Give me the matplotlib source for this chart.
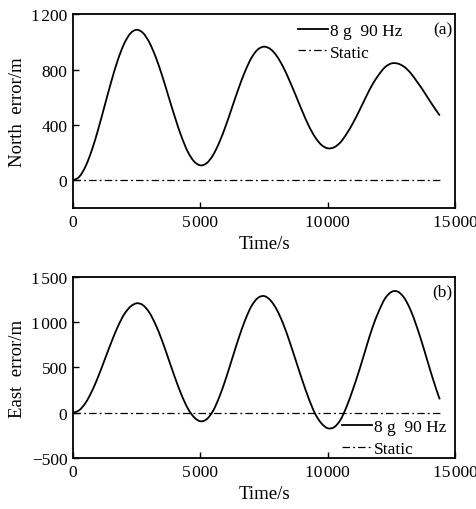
import numpy as np
import matplotlib
matplotlib.use('Agg')
import matplotlib.pyplot as plt
from matplotlib.path import Path
from matplotlib.patches import PathPatch
from matplotlib.ticker import FuncFormatter

plt.rcParams['font.family'] = ['Liberation Serif', 'DejaVu Serif']

# time axis (s)
time = [0, 250, 500, 750, 1000, 1250, 1500, 1750, 2000, 2250,
        2500, 2750, 3000, 3250, 3500, 3750, 4000, 4250, 4500, 4750,
        5000, 5250, 5500, 5750, 6000, 6250, 6500, 6750, 7000, 7250,
        7500, 7750, 8000, 8250, 8500, 8750, 9000, 9250, 9500, 9750,
        10000, 10250, 10500, 10750, 11000, 11250, 11500, 11750, 12000, 12250,
        12500, 12750, 13000, 13250, 13500, 13750, 14000, 14250, 14400]

# north position error, 8 g 90 Hz vibration (m)
north_vib = [0, 27, 104, 224, 376, 544, 712, 864, 984, 1061,
             1088, 1065, 996, 890, 757, 607, 458, 321, 210, 138,
             109, 125, 183, 277, 396, 530, 664, 785, 883, 945,
             966, 949, 899, 820, 721, 612, 501, 397, 314, 257,
             232, 239, 275, 339, 417, 507, 602, 691, 762, 818,
             845, 844, 821, 777, 715, 649, 577, 508, 469]

# east position error, 8 g 90 Hz vibration (m)
east_vib = [0, 29, 112, 242, 406, 590, 774, 945, 1083, 1171,
            1209, 1188, 1106, 969, 795, 594, 392, 205, 52, -49,
            -94, -71, 21, 178, 376, 598, 819, 1017, 1174, 1266,
            1289, 1243, 1139, 984, 789, 575, 361, 161, -7, -116,
            -171, -160, -79, 73, 266, 479, 711, 935, 1117, 1261,
            1334, 1338, 1270, 1137, 948, 729, 493, 269, 148]

# static case stays at zero
static = [0] * len(time)


def smooth_path(x, y):
    # draw the read points as one smooth bezier curve (catmull-rom handles)
    x = np.asarray(x, float)
    y = np.asarray(y, float)
    verts = [(x[0], y[0])]
    codes = [Path.MOVETO]
    n = len(x)
    for i in range(n - 1):
        p0 = max(i - 1, 0)
        p3 = min(i + 2, n - 1)
        c1 = (x[i] + (x[i + 1] - x[p0]) / 6, y[i] + (y[i + 1] - y[p0]) / 6)
        c2 = (x[i + 1] - (x[p3] - x[i]) / 6, y[i + 1] - (y[p3] - y[i]) / 6)
        verts += [c1, c2, (x[i + 1], y[i + 1])]
        codes += [Path.CURVE4] * 3
    return Path(verts, codes)


def thousands(v, pos):
    v = int(round(v))
    s = str(abs(v))
    if len(s) > 3:
        s = s[:-3] + '\u200a' + s[-3:]
    return ('\u2212' if v < 0 else '') + s


fig = plt.figure(figsize=(4.77, 5.10), dpi=100)
ax1 = fig.add_axes([0.153, 0.590, 0.801, 0.380])
ax2 = fig.add_axes([0.153, 0.100, 0.801, 0.355])

dashdot = (0, (6, 2.5, 1.5, 2.5))

panels = [
    (ax1, north_vib, 'North  error/m', (-200, 1200), [0, 400, 800, 1200], '(a)', (0.589, 0.955)),
    (ax2, east_vib, 'East  error/m', (-500, 1500), [-500, 0, 500, 1000, 1500], '(b)', (0.704, 0.215)),
]

for ax, vib, ylab, ylim, yticks, tag, anchor in panels:
    ax.add_patch(PathPatch(smooth_path(time, vib), facecolor='none',
                           edgecolor='black', lw=1.3))
    ax.plot([], [], color='black', lw=1.3, label='8 g  90 Hz')
    ax.plot(time, static, color='black', lw=0.9, linestyle=dashdot, label='Static')
    ax.set_xlim(0, 15000)
    ax.set_ylim(*ylim)
    ax.set_xticks([0, 5000, 10000, 15000])
    ax.set_yticks(yticks)
    ax.xaxis.set_major_formatter(FuncFormatter(thousands))
    ax.yaxis.set_major_formatter(FuncFormatter(thousands))
    ax.tick_params(direction='in', length=4, width=1, labelsize=12.5, top=False, right=False, pad=4)
    ax.set_xlabel('Time/s', fontsize=13.5, labelpad=4)
    ax.set_ylabel(ylab, fontsize=13.5, labelpad=4)
    for s in ax.spines.values():
        s.set_linewidth(1.3)
    ax.legend(loc='upper left', bbox_to_anchor=anchor, frameon=False, fontsize=12.5,
              handlelength=1.75, handletextpad=0.1, labelspacing=0.3, borderpad=0,
              borderaxespad=0)
    ax.text(0.993, 0.965, tag, transform=ax.transAxes, ha='right', va='top', fontsize=12.5)

plt.savefig('out.png', dpi=100)
